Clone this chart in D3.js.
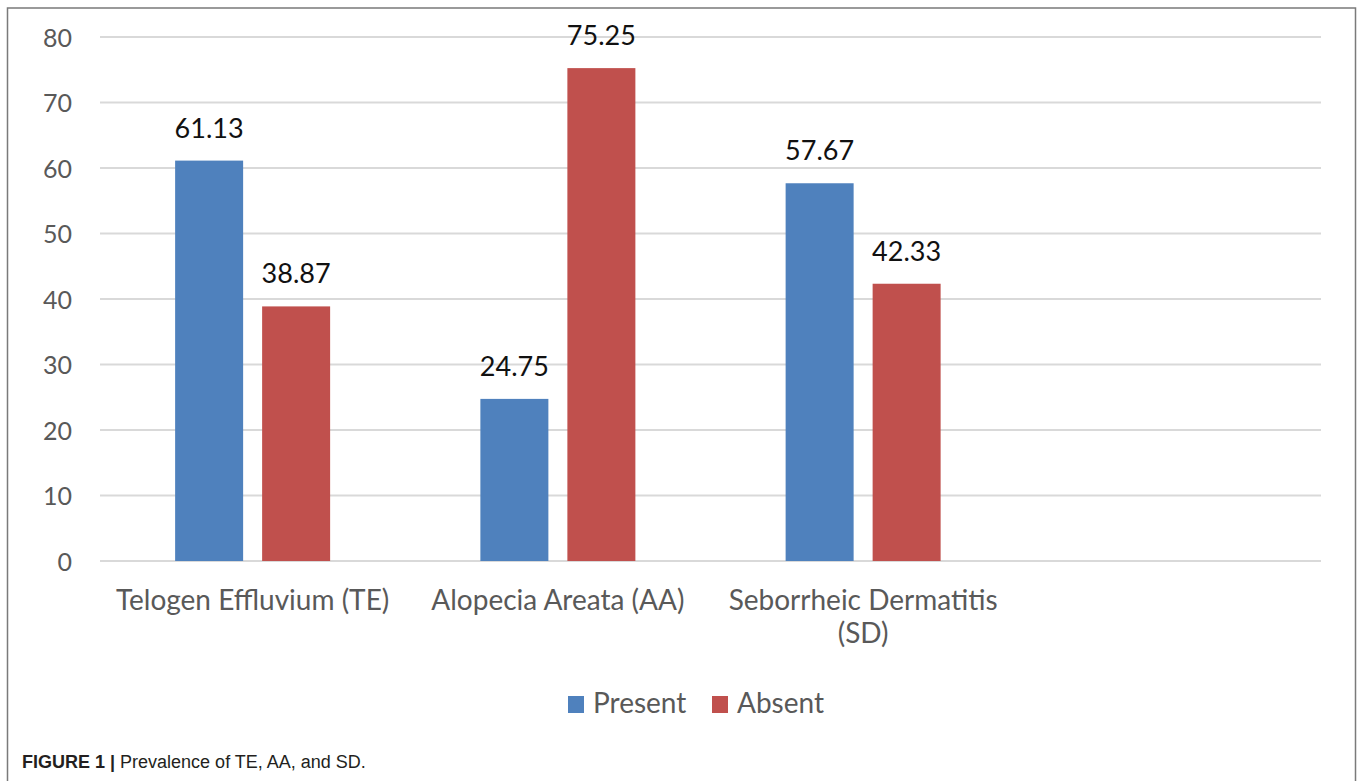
<!DOCTYPE html>
<html>
<head>
<meta charset="utf-8">
<script src="https://cdn.jsdelivr.net/npm/d3@7"></script>
<style>
  body { margin: 0; background: #fff; }
</style>
</head>
<body>
<div id="chart"></div>
<script>
// data
let categories = ["Telogen Effluvium (TE)", "Alopecia Areata (AA)", "Seborrheic Dermatitis (SD)", ""];
let seriesNames = ["Present", "Absent"];
let present = [61.13, 24.75, 57.67];
let absent = [38.87, 75.25, 42.33];
let yTicks = [0, 10, 20, 30, 40, 50, 60, 70, 80];
let colors = ["#4f81bd", "#c0504d"];

let w = 1358;
let h = 781;
let font = "Lato, 'Open Sans', sans-serif";

let svg = d3.select("#chart")
  .append("svg")
  .attr("width", w)
  .attr("height", h);

// outer frame
svg.append("rect")
  .attr("x", 7.5)
  .attr("y", 8)
  .attr("width", 1348)
  .attr("height", 800)
  .attr("fill", "white")
  .attr("stroke", "#7a7a7a")
  .attr("stroke-width", 1.5);

let x = d3.scaleBand()
  .domain(categories)
  .range([100, 1321]);

let xInner = d3.scaleBand()
  .domain(seriesNames)
  .range([0, x.bandwidth()])
  .paddingInner(0.2184)
  .paddingOuter(0.8635);

let y = d3.scaleLinear()
  .domain([0, 80])
  .range([561, 37]);

// gridlines
svg.append("g")
  .selectAll("line")
  .data(yTicks)
  .join("line")
  .attr("x1", 100)
  .attr("x2", 1321)
  .attr("y1", d => y(d))
  .attr("y2", d => y(d))
  .attr("stroke", "#d9d9d9")
  .attr("stroke-width", 2);

// y axis labels
let yAxis = d3.axisLeft(y).tickValues(yTicks).tickSize(0).tickPadding(0);
let yg = svg.append("g")
  .attr("transform", "translate(72,0)")
  .call(yAxis);
yg.select(".domain").remove();
yg.selectAll("text")
  .attr("font-family", font)
  .attr("font-size", 25)
  .attr("fill", "#595959")
  .attr("dy", "0.36em");

// bars
let rows = categories.slice(0, 3).map((c, i) => ({cat: c, values: [present[i], absent[i]]}));

let groups = svg.append("g")
  .selectAll("g")
  .data(rows)
  .join("g")
  .attr("transform", d => "translate(" + x(d.cat) + ",0)");

groups.selectAll("rect")
  .data(d => d.values.map((v, j) => ({s: seriesNames[j], v: v, j: j})))
  .join("rect")
  .attr("x", d => xInner(d.s))
  .attr("width", xInner.bandwidth())
  .attr("y", d => y(d.v))
  .attr("height", d => y(0) - y(d.v))
  .attr("fill", d => colors[d.j]);

groups.selectAll("text.val")
  .data(d => d.values.map((v, j) => ({s: seriesNames[j], v: v})))
  .join("text")
  .attr("class", "val")
  .attr("x", d => xInner(d.s) + xInner.bandwidth() / 2)
  .attr("y", d => y(d.v) - 23)
  .attr("text-anchor", "middle")
  .attr("font-family", font)
  .attr("font-size", 27)
  .attr("fill", "#111")
  .text(d => d.v.toFixed(2));

// category labels (wrap the long one like Excel does)
let catLines = {
  "Telogen Effluvium (TE)": ["Telogen Effluvium (TE)"],
  "Alopecia Areata (AA)": ["Alopecia Areata (AA)"],
  "Seborrheic Dermatitis (SD)": ["Seborrheic Dermatitis", "(SD)"]
};
svg.append("g")
  .selectAll("text")
  .data(categories.slice(0, 3))
  .join("text")
  .attr("x", d => x(d) + x.bandwidth() / 2)
  .attr("y", 610)
  .attr("text-anchor", "middle")
  .attr("font-family", font)
  .attr("font-size", 28)
  .attr("fill", "#595959")
  .each(function(d) {
    let t = d3.select(this);
    catLines[d].forEach((line, i) => {
      t.append("tspan")
        .attr("x", x(d) + x.bandwidth() / 2)
        .attr("dy", i == 0 ? 0 : 33)
        .text(line);
    });
  });

// legend
let legendX = [568, 712];
let legend = svg.append("g");
legend.selectAll("rect")
  .data(seriesNames)
  .join("rect")
  .attr("x", (d, i) => legendX[i])
  .attr("y", 696)
  .attr("width", 16)
  .attr("height", 17)
  .attr("fill", (d, i) => colors[i]);
legend.selectAll("text")
  .data(seriesNames)
  .join("text")
  .attr("x", (d, i) => legendX[i] + 25)
  .attr("y", 713)
  .attr("font-family", font)
  .attr("font-size", 28)
  .attr("fill", "#595959")
  .text(d => d);

// caption
let cap = svg.append("text")
  .attr("x", 22)
  .attr("y", 768)
  .attr("font-family", "'Liberation Sans', Arial, sans-serif")
  .attr("font-size", 18)
  .attr("fill", "#231f20");
cap.append("tspan").attr("font-weight", "bold").text("FIGURE 1 | ");
cap.append("tspan").text("Prevalence of TE, AA, and SD.");
</script>
</body>
</html>
